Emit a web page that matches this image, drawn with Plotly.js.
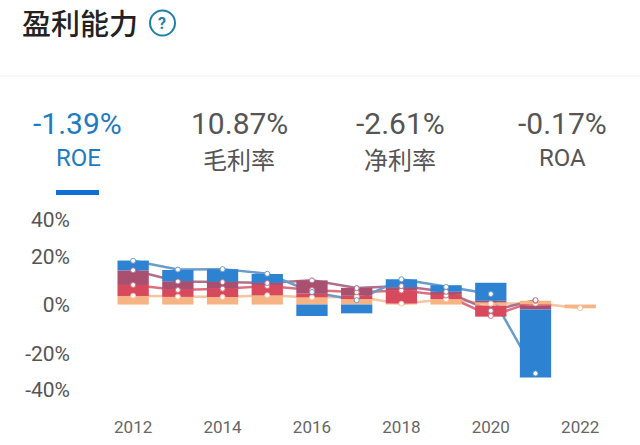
<!DOCTYPE html>
<html><head><meta charset="utf-8">
<script src="https://cdn.plot.ly/plotly-3.0.1.min.js"></script>
<style>html,body{margin:0;padding:0;background:#fff}#c{width:640px;height:445px}</style>
</head><body><div id="c"></div>
<script>
const years=[2012,2013,2014,2015,2016,2017,2018,2019,2020,2021,2022];
// stacked bars (%), positive and negative parts
const barPeachPos=[3.9,3.5,3.4,4.2,3.3,2.5,0.5,2.5,1.0,1.7,0];
const barRedPos=[5.0,3.5,4.0,4.7,1.8,1.5,6.0,1.9,0,0,0];
const barMauvePos=[6.6,3.6,3.0,1.0,5.9,3.6,1.4,1.4,0.7,0,0];
const barBluePos=[4.5,5.1,5.6,4.0,0,0,3.6,3.0,8.2,0,0];
const barPeachNeg=[0,0,0,0,0,0,0,0,-0.5,0,-1.7];
const barRedNeg=[0,0,0,0,0,0,0,0,-5.0,-0.5,0];
const barMauveNeg=[0,0,0,0,0,0,0,0,0,-1.7,0];
const barBlueNeg=[0,0,0,0,-5.2,-4.0,0,0,0,-30.9,0];
// line series (%)
const lineBlue=[19.9,15.9,16.1,14,5.7,2,11.5,8,4.8,-31.3,null];
const lineMauve=[15.6,10.5,10.2,9.8,11,7.5,8.4,5.8,-2.8,2.0,null];
const lineRed=[8.9,6.6,7.2,8.4,6.6,5.6,6.4,4.1,-5.2,1.6,null];
const linePeach=[4,3.6,3.4,4.2,3.2,3.5,0.4,2.4,0.4,0.6,-1.6];
const yTickVals=[38.4,21.8,0,-22.3,-38.6];
const yTickText=['40%','20%','0%','-20%','-40%'];
const xTickVals=[2012,2014,2016,2018,2020,2022];
const cBlue='#2e82d2',cMauve='#a94f70',cRed='#d9495e',cPeach='#f6b384';
const lBlue='#6a9ccb',lMauve='#b0708c',lRed='#dd7080',lPeach='#f5c4a0';
const bar=(y,c)=>({type:'bar',x:years,y:y,yaxis:'y2',width:0.7,marker:{color:c,line:{width:0}},hoverinfo:'skip',showlegend:false});
const line=(y,c)=>({type:'scatter',mode:'lines',x:years,y:y,line:{color:c,width:2.5},hoverinfo:'skip',showlegend:false});
const dots=(y,c)=>({type:'scatter',mode:'markers',x:years,y:y,yaxis:'y2',marker:{color:'#fff',size:5,line:{color:c,width:1}},hoverinfo:'skip',showlegend:false});
const data=[line(linePeach,lPeach),line(lineRed,lRed),line(lineMauve,lMauve),line(lineBlue,lBlue),
bar(barPeachPos,cPeach),bar(barRedPos,cRed),bar(barMauvePos,cMauve),bar(barBluePos,cBlue),
bar(barPeachNeg,cPeach),bar(barRedNeg,cRed),bar(barMauveNeg,cMauve),bar(barBlueNeg,cBlue),
dots(linePeach,lPeach),dots(lineRed,lRed),dots(lineMauve,lMauve),dots(lineBlue,lBlue)];
const F='Roboto, "Noto Sans CJK SC", sans-serif';
const txt=(t,x,y,s,c,w)=>({text:t,xref:'paper',yref:'paper',x:x,y:y,xanchor:'center',yanchor:'middle',showarrow:false,font:{family:F,size:s,color:c,weight:w||400}});
const W=640,H=445,L=71,R=20,T=215,B=30;
const px=x=>(x-L)/(W-L-R), py=y=>1-(y-T)/(H-T-B);
const anns=[
 txt('盈利能力',px(80),py(25),29,'#222',500),
 txt('?',px(162),py(23),16,'#1f7fa8',700),
 txt('-1.39%',px(77),py(124),30,'#1f7bbf'),txt('ROE',px(78),py(158),24,'#1f7bbf'),
 txt('10.87%',px(239),py(124),30,'#555'),txt('毛利率',px(239),py(161),24,'#555'),
 txt('-2.61%',px(400),py(124),30,'#555'),txt('净利率',px(400),py(161),24,'#555'),
 txt('-0.17%',px(562),py(124),30,'#555'),txt('ROA',px(562),py(158),24,'#555')
];
const shapes=[
 {type:'circle',xref:'paper',yref:'paper',x0:px(150),x1:px(175),y0:py(35.5),y1:py(10.5),line:{color:'#1f7fa8',width:2}},
 {type:'line',xref:'paper',yref:'paper',x0:px(0),x1:px(640),y0:py(76),y1:py(76),line:{color:'#f0f0f0',width:1}},
 {type:'rect',xref:'paper',yref:'paper',x0:px(56),x1:px(99),y0:py(195),y1:py(190),fillcolor:'#0f6fd6',line:{width:0}}
];
const yr=[-50.2,40.7];
Plotly.newPlot('c',data,{
 width:W,height:H,margin:{l:L,r:R,t:T,b:B,pad:0},paper_bgcolor:'#fff',plot_bgcolor:'rgba(0,0,0,0)',
 barmode:'relative',showlegend:false,
 xaxis:{range:[2010.61,2022.89],tickvals:xTickVals,showgrid:false,zeroline:false,showline:false,ticks:'',tickfont:{family:F,size:17,color:'#666'}},
 yaxis:{range:yr,tickvals:yTickVals,ticktext:yTickText,showgrid:false,zeroline:false,showline:false,ticks:'',tickfont:{family:F,size:21,color:'#555'}},
 yaxis2:{range:yr,overlaying:'y',anchor:'x',side:'left',showticklabels:false,showgrid:false,zeroline:false,showline:false,ticks:''},
 annotations:anns,shapes:shapes
},{displayModeBar:false,staticPlot:true});
</script></body></html>
